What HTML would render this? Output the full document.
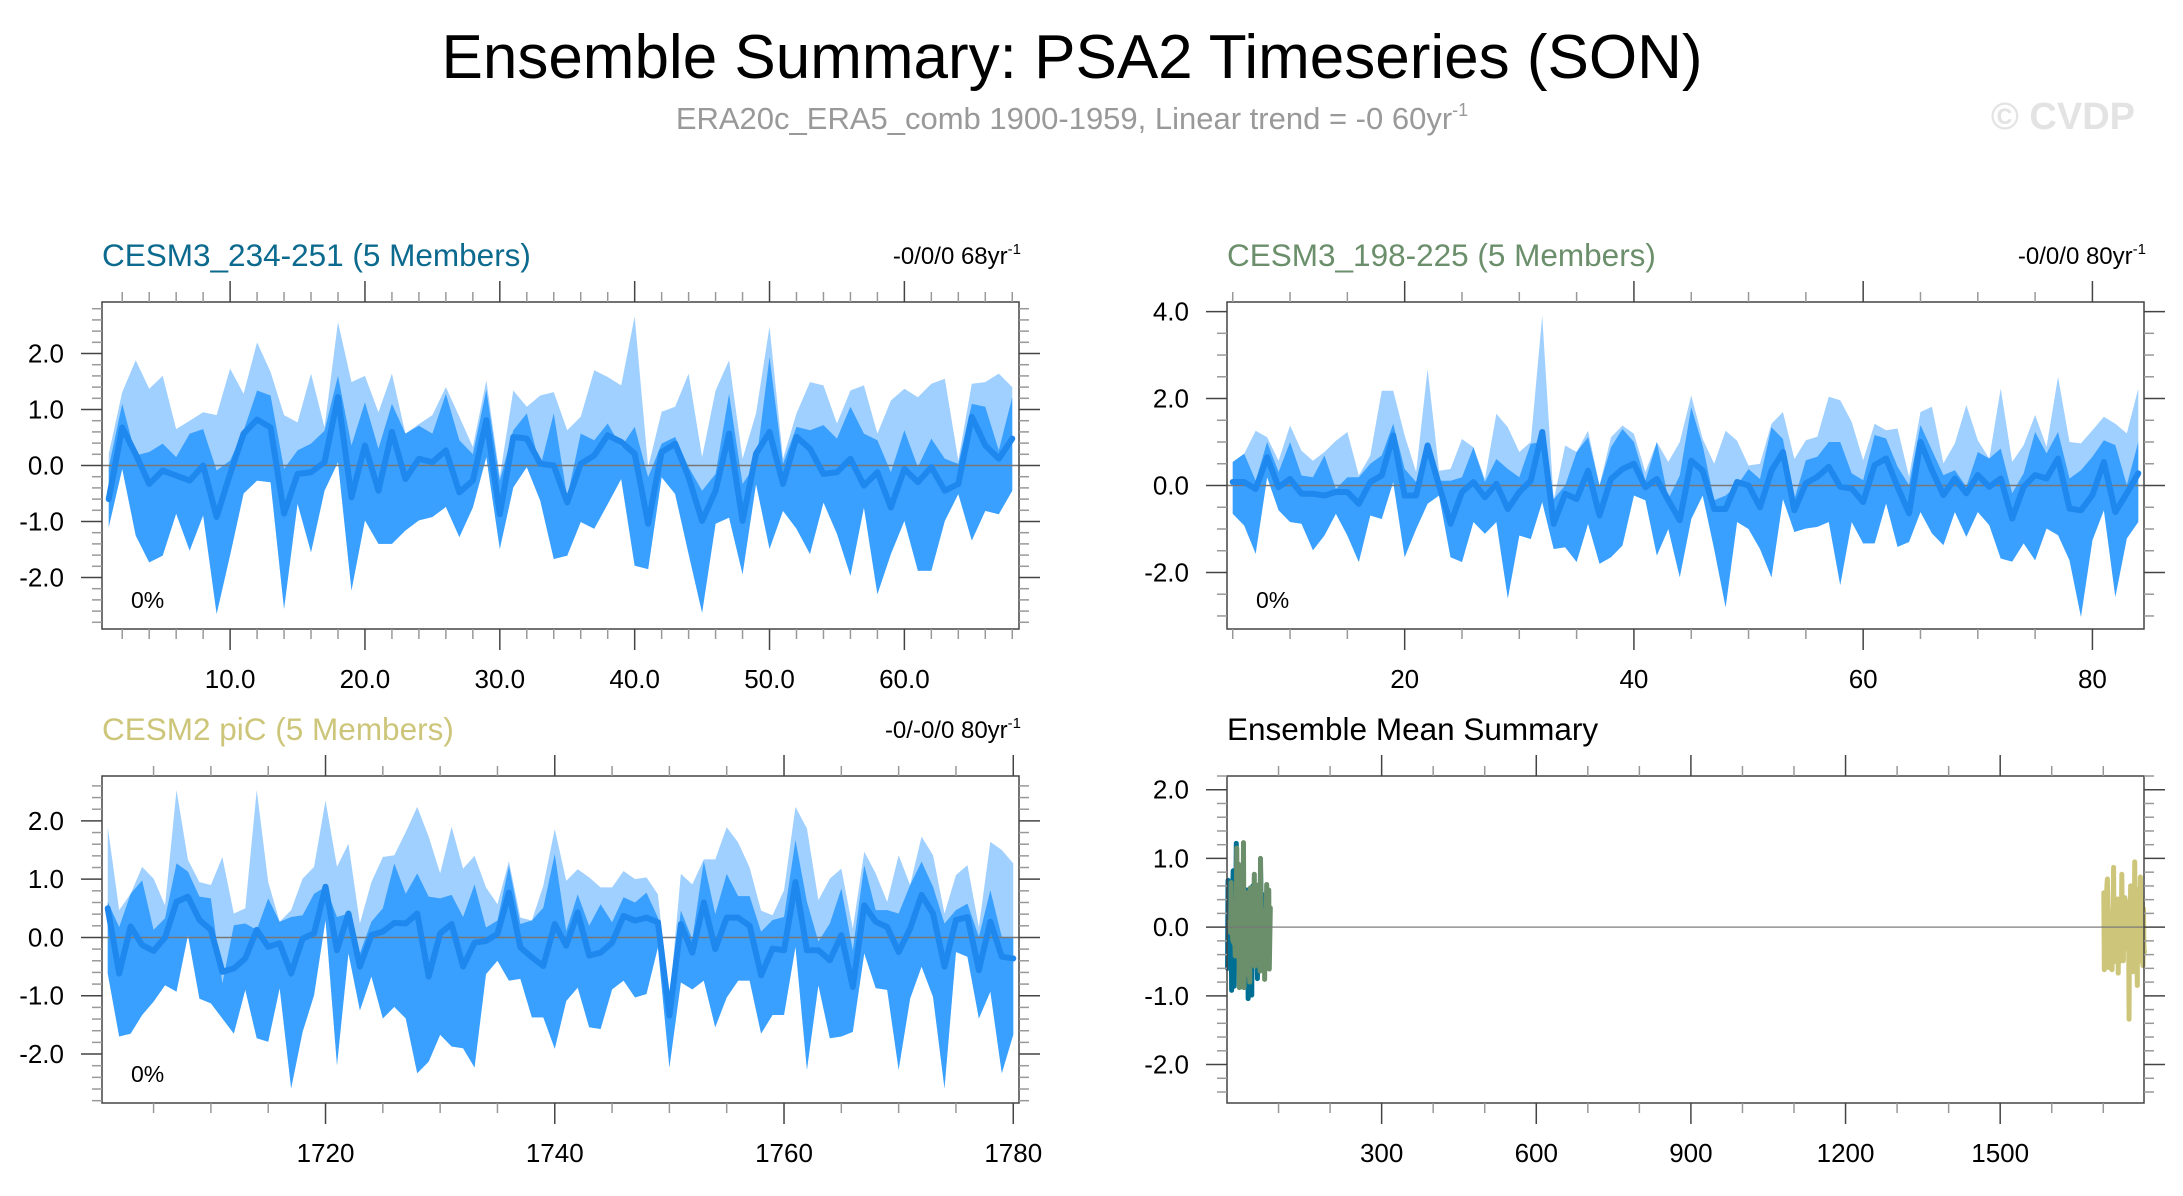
<!DOCTYPE html>
<html><head><meta charset="utf-8"><style>
html,body{margin:0;padding:0;background:#fff;}
svg{display:block;font-family:"Liberation Sans",Arial,sans-serif;}
</style></head><body>
<svg id="chart" xmlns="http://www.w3.org/2000/svg" width="2183" height="1196" viewBox="0 0 2183 1196">
<text x="1072" y="78" text-anchor="middle" font-size="62" fill="#000">Ensemble Summary: PSA2 Timeseries (SON)</text>
<text x="1072" y="129" text-anchor="middle" font-size="31" fill="#999">ERA20c_ERA5_comb 1900-1959, Linear trend = -0 60yr<tspan font-size="18" dy="-13">-1</tspan></text>
<text x="2135" y="129" text-anchor="end" font-size="38" font-weight="bold" fill="#e3e3e3">© CVDP</text>
<g id="plots"></g>
</svg>
<script>
// ---------- Data ----------
const p1X = Array.from({length:68},(_,i)=>i+1);
const p1Mean = [-0.6,0.68,0.2,-0.33,-0.09,-0.18,-0.27,0,-0.92,-0.15,0.57,0.82,0.68,-0.86,-0.15,-0.12,0.06,1.22,-0.57,0.36,-0.45,0.6,-0.24,0.12,0.06,0.27,-0.48,-0.27,0.81,-0.87,0.51,0.48,0.03,0,-0.66,0.03,0.18,0.54,0.42,0.21,-1.04,0.24,0.39,-0.21,-0.99,-0.45,0.57,-0.99,0.21,0.6,-0.33,0.51,0.3,-0.15,-0.12,0.12,-0.36,-0.12,-0.75,-0.06,-0.3,-0.03,-0.45,-0.33,0.87,0.36,0.12,0.48];
const p1Hi = [0.21,1.31,1.88,1.37,1.6,0.65,0.8,0.95,0.9,1.73,1.28,2.2,1.67,0.9,0.77,1.64,0.68,2.56,1.49,1.6,0.95,1.64,0.57,0.74,0.9,1.4,0.87,0.33,1.52,-0.2,1.34,1.05,1.25,1.31,0.63,0.87,1.7,1.58,1.43,2.66,-0.03,0.96,1.05,1.64,0.15,1.34,1.88,0.12,0.93,2.48,0.12,0.93,1.49,1.43,0.75,1.34,1.43,0.57,1.16,1.37,1.22,1.46,1.55,0.09,1.46,1.49,1.64,1.4];
const p1DHi = [-0.03,1.1,0.18,0.24,0.39,0.15,0.57,0.65,-0.09,0.09,0.62,1.34,1.25,-0.06,0.27,0.39,0.62,1.6,0.36,1.13,0.3,1.1,0.57,0.71,0.57,1.28,0.45,0.2,1.35,-0.27,0.63,0.93,-0.03,0.93,-0.57,0.57,0.45,0.75,0.33,0.69,-0.21,0.39,0.51,-0.03,-0.45,-0.15,1.28,-0.33,0.03,1.94,0.03,0.69,0.63,0.72,0.48,1.05,0.57,0.45,-0.12,0.63,-0.03,0.48,0.12,0.03,1.1,1.05,0.27,1.22];
const p1Lo = [-1.1,-0.06,-1.25,-1.73,-1.61,-0.86,-1.52,-0.89,-2.65,-1.6,-0.5,-0.27,-0.3,-2.56,-0.68,-1.55,-0.45,0.06,-2.23,-0.98,-1.4,-1.4,-1.16,-0.98,-0.92,-0.74,-1.28,-0.75,0.15,-1.49,-0.39,-0.03,-0.63,-1.67,-1.61,-1.01,-1.13,-0.69,-0.24,-1.79,-1.85,-0.21,-0.51,-1.58,-2.63,-1.04,-0.93,-1.94,-0.33,-1.49,-0.81,-1.13,-1.58,-0.66,-1.22,-1.97,-0.75,-2.3,-1.58,-0.99,-1.88,-1.88,-0.99,-0.51,-1.34,-0.81,-0.87,-0.45];

const p2X = Array.from({length:80},(_,i)=>i+5);
const p2Mean = [0.08,0.08,-0.08,0.65,-0.04,0.15,-0.19,-0.19,-0.23,-0.15,-0.15,-0.42,0.08,0.23,1.15,-0.23,-0.23,0.92,0,-0.88,-0.15,0.08,-0.27,0.04,-0.54,-0.15,0.11,1.23,-0.88,-0.19,-0.31,0.34,-0.69,0.15,0.38,0.5,-0.04,0.15,-0.34,-0.8,0.57,0.34,-0.54,-0.54,0.08,0,-0.5,0.34,0.77,-0.57,0.05,0.2,0.43,-0.03,-0.07,-0.38,0.47,0.62,-0.03,-0.64,1.0,0.35,-0.22,0.16,-0.18,0.24,-0.03,0.16,-0.76,-0.03,0.24,0.16,0.62,-0.53,-0.57,-0.22,0.54,-0.61,-0.18,0.28];
const p2Hi = [0.54,0.73,1.26,1.11,0.57,1.38,0.8,0.57,0.77,1.03,1.23,0.23,0.69,2.18,2.18,1.15,0.31,2.68,0.34,0.38,1.07,0.88,0.15,1.65,1.34,0.77,1.0,3.9,-0.34,0.92,0.77,1.26,0,1.11,1.38,1.19,0.31,1.0,0.54,1.0,2.07,1.07,0.5,1.26,1.03,0.46,0.5,1.42,1.69,0.61,1.04,1.12,2.04,1.96,1.46,0.58,1.42,1.27,1.31,0.2,1.69,1.81,0.51,0.97,1.85,1.04,0.62,2.23,0.54,0.93,1.62,0.89,2.5,1.0,0.97,1.27,1.58,1.42,1.2,2.23];
const p2DHi = [0.54,0.73,0.11,1.0,0.31,1.0,0.23,0.19,0.69,-0.08,0.19,0.19,0.5,0.69,1.42,0.38,0.08,1.0,0.11,0.11,0.19,0.88,0.08,0.61,0.38,0.19,0.96,1.0,-0.31,0,0.77,1.11,0,0.88,1.3,1.0,0.11,1.0,-0.31,0.23,1.8,0.92,-0.34,-0.23,0,0.38,0.15,1.34,1.07,-0.31,0.58,0.66,1.0,1.0,0.28,0.12,1.16,1.08,0.43,0.01,1.39,0.81,0.24,0.35,-0.03,0.77,0.62,0.85,-0.18,0.28,1.23,0.74,1.23,0.16,0.35,0.66,1.04,0.93,0.01,1.0];
const p2Lo = [-0.65,-0.92,-1.57,0.19,-0.57,-0.84,-0.88,-1.49,-1.15,-0.65,-1.15,-1.76,-0.69,-0.77,0.08,-1.65,-1.0,-0.42,-0.23,-1.65,-1.76,-0.84,-1.11,-0.84,-2.6,-1.15,-1.23,-0.38,-1.46,-1.42,-1.76,-0.88,-1.8,-1.65,-1.38,-0.23,-0.34,-1.61,-1.0,-2.11,-0.77,-0.23,-1.46,-2.8,-0.84,-1.0,-1.46,-2.11,-0.31,-1.07,-0.99,-0.95,-0.84,-2.29,-0.84,-1.33,-1.33,-0.41,-1.41,-1.3,-0.61,-1.1,-1.37,-0.61,-1.18,-0.61,-0.91,-1.68,-1.75,-1.33,-1.72,-0.99,-1.14,-1.72,-3.02,-1.26,-0.57,-2.56,-1.22,-0.84];

const p3X = Array.from({length:80},(_,i)=>i+1701);
const p3Mean = [0.5,-0.62,0.19,-0.13,-0.23,0,0.61,0.7,0.3,0.13,-0.59,-0.53,-0.36,0.13,-0.16,-0.1,-0.62,-0.02,0.07,0.87,-0.22,0.41,-0.5,0.04,0.1,0.25,0.24,0.41,-0.67,0.07,0.23,-0.5,-0.09,-0.06,0.06,0.77,-0.17,-0.34,-0.49,0.23,-0.14,0.43,-0.31,-0.26,-0.09,0.37,0.29,0.34,0.26,-1.34,0.23,-0.26,0.6,-0.2,0.34,0.34,0.2,-0.65,-0.19,-0.22,0.95,-0.22,-0.22,-0.39,0.04,-0.85,0.55,0.27,0.18,-0.25,0.15,0.73,0.41,-0.5,0.3,0.35,-0.56,0.27,-0.33,-0.36];
const p3Hi = [1.9,0.47,0.75,1.21,1.01,0.55,2.53,1.33,0.95,0.9,1.38,0.41,0.5,2.53,0.95,0.27,0.47,1.01,1.21,2.35,1.21,1.61,0.24,0.95,1.38,1.41,1.81,2.24,1.73,1.1,1.9,1.18,1.4,0.86,0.57,1.31,0.34,0.29,0.89,1.86,0.97,1.17,1.03,0.86,0.86,1.14,1.0,1.03,0.74,-1.1,1.09,0.91,1.34,1.34,1.89,1.63,1.2,0.46,0.38,0.81,2.24,1.87,0.64,1.01,1.18,0.15,1.47,1.1,0.61,1.41,0.9,1.73,1.41,0.41,1.07,1.24,0.18,1.64,1.5,1.27];
const p3DHi = [0.61,0.18,0.75,0.98,0.13,0.33,1.27,1.13,0.7,0.67,-0.79,0.21,0.24,0.13,0.67,0.27,0.35,0.38,0.75,0.87,0.35,0.41,-0.27,0.27,0.5,1.27,0.75,1.1,0.7,0.67,0.73,0.35,0.91,0.17,0.29,1.23,0.23,0.29,0.51,1.43,0.11,0.74,0.2,0.57,0.26,0.69,0.6,0.77,0.34,-1.2,0.46,-0.03,1.31,0.4,1.09,0.71,0.71,0.1,0.3,0.35,1.67,0.61,-0.07,0.24,0.84,-0.22,1.24,0.47,0.47,0.41,0.9,1.3,0.87,0.24,0.47,0.58,0.01,0.81,0.01,0.01];
const p3Lo = [-0.62,-1.7,-1.65,-1.33,-1.1,-0.82,-0.93,0.04,-1.05,-1.13,-1.39,-1.65,-0.9,-1.73,-1.79,-0.87,-2.59,-1.62,-0.99,0.3,-2.19,-0.27,-1.25,-0.67,-1.39,-1.19,-1.39,-2.33,-2.13,-1.67,-1.87,-1.9,-2.23,-0.63,-0.4,-0.74,-0.71,-1.37,-1.37,-1.91,-1.09,-0.86,-1.54,-1.57,-0.89,-0.74,-1.03,-0.97,-0.17,-2.23,-0.77,-0.89,-0.74,-1.54,-1.03,-0.74,-0.74,-1.65,-1.33,-1.33,-0.16,-2.27,-0.82,-1.73,-1.7,-1.62,-0.27,-0.87,-0.9,-2.27,-1.05,-0.5,-1.02,-2.59,-0.25,-0.33,-1.39,-0.93,-2.33,-1.67];

// ---------- Drawing ----------
const NS = "http://www.w3.org/2000/svg";
const root = document.getElementById('plots');
function mk(tag, attrs, parent){
  const e = document.createElementNS(NS, tag);
  for (const k in attrs) e.setAttribute(k, attrs[k]);
  (parent||root).appendChild(e);
  return e;
}
function scale(d0,d1,r0,r1){ return v => r0 + (v-d0)/(d1-d0)*(r1-r0); }
function fmt(v,dec){ return v.toFixed(dec); }

function drawAxes(g, cfg){
  const {L,R,T,B,xmin,xmax,ymin,ymax,xMajor,xMinor,yMajor,yMinor,xLabels,yLabels,xDec,yDec} = cfg;
  const sx = scale(xmin,xmax,L,R), sy = scale(ymin,ymax,B,T);
  const eps = 1e-6;
  for (let v = Math.ceil(ymin/yMinor-eps)*yMinor; v <= ymax+eps; v += yMinor){
    const isMaj = Math.abs(v/yMajor - Math.round(v/yMajor)) < 1e-4;
    const len = isMaj ? 21 : 10;
    const y = sy(v);
    const t1 = mk('line',{x1:L-len,x2:L,y1:y,y2:y,stroke:isMaj?'#444':'#999','stroke-width':1.5},g);
    
    
    const t2 = mk('line',{x1:R,x2:R+len,y1:y,y2:y,stroke:isMaj?'#444':'#999','stroke-width':1.5},g);
    
    
  }
  yLabels.forEach(v=>{
    const t = mk('text',{x:L-38,y:sy(v)+9,'text-anchor':'end','font-size':26,fill:'#000'},g);
    t.textContent = fmt(v,yDec);
    
    
  });
  for (let v = Math.ceil(xmin/xMinor-eps)*xMinor; v <= xmax+eps; v += xMinor){
    const isMaj = Math.abs(v/xMajor - Math.round(v/xMajor)) < 1e-4;
    const len = isMaj ? 21 : 10;
    const x = sx(v);
    if (x < L+0.5 || x > R+0.5) continue;
    const t1 = mk('line',{x1:x,x2:x,y1:T-len,y2:T,stroke:isMaj?'#444':'#999','stroke-width':1.5},g);
    
    
    const t2 = mk('line',{x1:x,x2:x,y1:B,y2:B+len,stroke:isMaj?'#444':'#999','stroke-width':1.5},g);
    
    
  }
  xLabels.forEach(v=>{
    const t = mk('text',{x:sx(v),y:B+59,'text-anchor':'middle','font-size':26,fill:'#000'},g);
    t.textContent = fmt(v,xDec);
    
    
  });
  return {sx,sy};
}

function bandPanel(name, cfg, xs, mean, hi, dhi, lo, title, titleColor, trend){
  const g = mk('g',{});
  
  
  const sx = scale(cfg.xmin,cfg.xmax,cfg.L,cfg.R), sy = scale(cfg.ymin,cfg.ymax,cfg.B,cfg.T);
  const up = xs.map((x,i)=>sx(x)+','+sy(hi[i]));
  const dup = xs.map((x,i)=>sx(x)+','+sy(dhi[i]));
  const dn = xs.map((x,i)=>sx(x)+','+sy(lo[i])).reverse();
  const p1 = mk('polygon',{points:up.concat(dn).join(' '),fill:'#a0d0ff'},g);
  
  
  const p2 = mk('polygon',{points:dup.concat(dn).join(' '),fill:'#3aa0ff'},g);
  
  
  const z = mk('line',{x1:cfg.L,x2:cfg.R,y1:sy(0),y2:sy(0),stroke:'#777','stroke-width':1.5},g);
  
  
  const ml = mk('polyline',{points:xs.map((x,i)=>sx(x)+','+sy(mean[i])).join(' '),fill:'none',stroke:'#1f88ee','stroke-width':6,'stroke-linejoin':'round','stroke-linecap':'round'},g);
  
  
  frameAndText(g,cfg,title,titleColor,trend,true);
}

function frameAndText(g,cfg,title,titleColor,trend,pct){
  const fr = mk('rect',{x:cfg.L,y:cfg.T,width:cfg.R-cfg.L,height:cfg.B-cfg.T,fill:'none',stroke:'#444','stroke-width':1.5},g);
  
  
  drawAxes(g,cfg);
  const tt = mk('text',{x:cfg.L,y:cfg.T-36,'font-size':31.5,fill:titleColor},g);
  tt.textContent = title;
  
  
  if (trend){
    const tr = mk('text',{x:cfg.R+2,y:cfg.T-38,'text-anchor':'end','font-size':24,fill:'#000'},g);
    tr.textContent = trend;
    const sup = mk('tspan',{'font-size':15,dy:-10},tr);
    sup.textContent = '-1';
    
    
  }
  if (pct){
    const pt = mk('text',{x:cfg.L+29,y:cfg.B-21,'font-size':23,fill:'#000'},g);
    pt.textContent = '0%';
    
    
  }
}

const cfg1 = {L:102,R:1019,T:302,B:629,xmin:0.5,xmax:68.5,ymin:-2.92,ymax:2.92,xMajor:10,xMinor:2,yMajor:1,yMinor:0.2,xLabels:[10,20,30,40,50,60],yLabels:[-2,-1,0,1,2],xDec:1,yDec:1};
const cfg2 = {L:1227,R:2144,T:302,B:629,xmin:4.5,xmax:84.5,ymin:-3.3,ymax:4.22,xMajor:20,xMinor:5,yMajor:2,yMinor:0.5,xLabels:[20,40,60,80],yLabels:[-2,0,2,4],xDec:0,yDec:1};
const cfg3 = {L:102,R:1019,T:776,B:1103,xmin:1700.5,xmax:1780.5,ymin:-2.84,ymax:2.77,xMajor:20,xMinor:5,yMajor:1,yMinor:0.2,xLabels:[1720,1740,1760,1780],yLabels:[-2,-1,0,1,2],xDec:0,yDec:1};
const cfg4 = {L:1227,R:2144,T:776,B:1103,xmin:0,xmax:1779,ymin:-2.56,ymax:2.2,xMajor:300,xMinor:100,yMajor:1,yMinor:0.2,xLabels:[300,600,900,1200,1500],yLabels:[-2,-1,0,1,2],xDec:0,yDec:1};

bandPanel('panel-cesm3-234-251',cfg1,p1X,p1Mean,p1Hi,p1DHi,p1Lo,'CESM3_234-251 (5 Members)','#0b6a8e','-0/0/0 68yr');
bandPanel('panel-cesm3-198-225',cfg2,p2X,p2Mean,p2Hi,p2DHi,p2Lo,'CESM3_198-225 (5 Members)','#6b8e6b','-0/0/0 80yr');
bandPanel('panel-cesm2-pic',cfg3,p3X,p3Mean,p3Hi,p3DHi,p3Lo,'CESM2 piC (5 Members)','#cdc67a','-0/-0/0 80yr');

(function(){
  const g = mk('g',{});
  
  
  const sx = scale(cfg4.xmin,cfg4.xmax,cfg4.L,cfg4.R), sy = scale(cfg4.ymin,cfg4.ymax,cfg4.B,cfg4.T);
  const series = [[p1X,p1Mean,'#006f94','cesm3-234-251-mean'],[p2X,p2Mean,'#6b8e6b','cesm3-198-225-mean'],[p3X,p3Mean,'#cdc67a','cesm2-pic-mean']];
  series.forEach(s=>{
    const l = mk('polyline',{points:s[0].map((x,i)=>sx(x)+','+sy(s[1][i])).join(' '),fill:'none',stroke:s[2],'stroke-width':5,'stroke-linejoin':'round','stroke-linecap':'round'},g);
    
    
  });
  const z = mk('line',{x1:cfg4.L,x2:cfg4.R,y1:sy(0),y2:sy(0),stroke:'#777','stroke-width':1.5,'stroke-opacity':0.8},g);
  
  
  frameAndText(g,cfg4,'Ensemble Mean Summary','#000',null,false);
})();
</script>
</body></html>
